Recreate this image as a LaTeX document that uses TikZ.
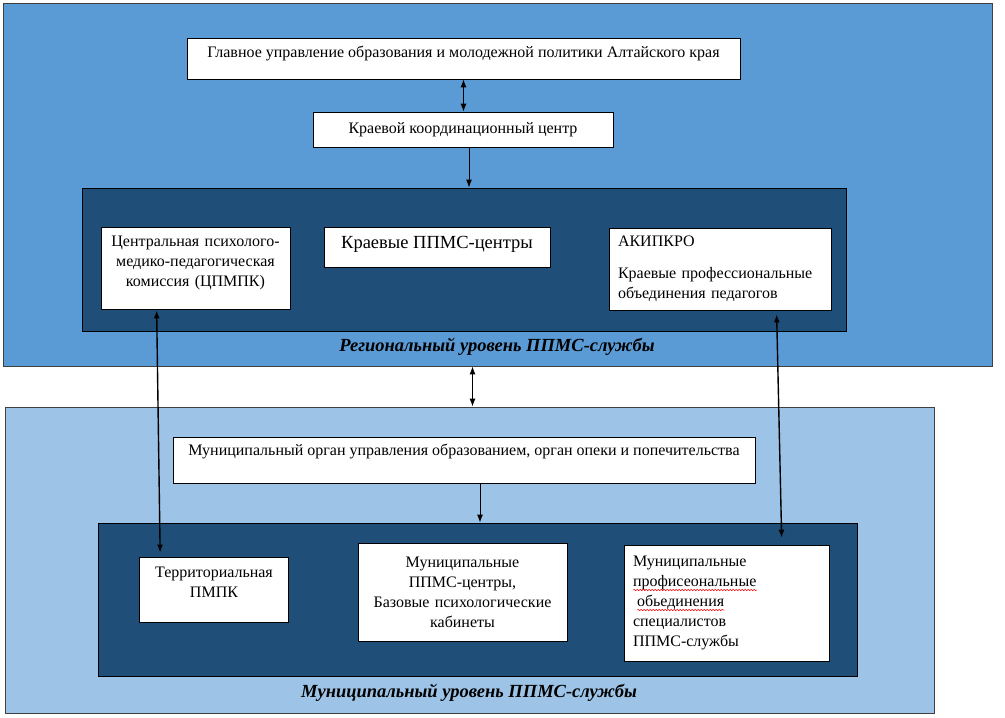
\documentclass[tikz,border=0pt]{standalone}
\usepackage{fontspec}
\setmainfont{Liberation Serif}
\usetikzlibrary{arrows.meta,calc,positioning,decorations.pathmorphing}

\definecolor{regblue}{RGB}{91,155,213}
\definecolor{munblue}{RGB}{157,195,230}
\definecolor{deepblue}{RGB}{31,78,121}

% spell-checker wave under a word
\newsavebox{\wavebox}
\newcommand{\spellwave}[1]{\leavevmode\sbox{\wavebox}{#1}\rlap{\usebox{\wavebox}}%
  \tikz[baseline=0pt]\draw[red, line width=0.5pt, decorate,
    decoration={snake, amplitude=0.7pt, segment length=3pt}]
    (0pt,-3.5pt) -- (\the\wd\wavebox,-3.5pt);}

\begin{document}
\begin{tikzpicture}[
    >={Latex[length=8pt,width=6pt]},
    x=1pt, y=-1pt,
    every node/.style={font=\fontsize{16}{20}\selectfont},
    tierpanel/.style={draw=black!75, line width=0.8pt, inner sep=0pt},
    corebox/.style={draw=black, fill=deepblue, line width=0.8pt, inner sep=0pt},
    unitbox/.style={draw=black, fill=white, line width=0.7pt, inner sep=4pt, align=center},
    caption/.style={font=\fontsize{18.5}{22}\selectfont\bfseries\itshape},
    link/.style={line width=1pt},
    longlink/.style={line width=1.4pt}
  ]
    \useasboundingbox (0,0) rectangle (1005,718);

    %------------------ Regional level ------------------%
    \node[tierpanel, fill=regblue, minimum width=989, minimum height=363] (regbg) at (497.5,184.5) {};
    \node[corebox, minimum width=764, minimum height=143] (regcore) at (464,259.5) {};

    % Governing bodies
    \node[unitbox, minimum width=553, inner ysep=0pt, text height=19.3, text depth=21.7] (glav) at (463.5,58.5)
      {Главное управление образования и молодежной политики Алтайского края};
    \node[unitbox, minimum width=300, inner ysep=0pt, text height=21, text depth=14] (krc) at (463,129.5)
      {Краевой координационный центр};

    % Regional units
    \node[unitbox, text width=181, minimum height=82] (cpmpk) at (195.5,268)
      {Центральная психолого-\\медико-педагогическая\\комиссия (ЦПМПК)\\[-6pt]\mbox{}};
    \node[unitbox, minimum width=226, inner ysep=0pt, text height=21.7, text depth=18.3,
      font=\fontsize{18.5}{22}\selectfont] (kppms) at (437,247) {Краевые ППМС-центры};
    \node[unitbox, align=left, inner xsep=9pt, text width=204, minimum height=82] (akip) at (720,269)
      {АКИПКРО\\[12pt]Краевые профессиональные\\объединения педагогов};

    % Caption
    \node[caption] (reglabel) at (497,347) {Региональный уровень ППМС-службы};

    %------------------ Municipal level -----------------%
    \node[tierpanel, fill=munblue, minimum width=929, minimum height=306] (munbg) at (469.5,560) {};
    \node[corebox, minimum width=759, minimum height=153] (muncore) at (477.5,599.5) {};

    % Governing body
    \node[unitbox, minimum width=582, inner ysep=0pt, text height=18.3, text depth=27.7] (morg) at (464,460)
      {Муниципальный орган управления образованием, орган опеки и попечительства};

    % Municipal units
    \node[unitbox, text width=141, minimum height=65] (tpmpk) at (214,589.5)
      {Территориальная\\ПМПК\\[-6pt]\mbox{}};
    \node[unitbox, text width=201, minimum height=98] (mppms) at (462.5,592)
      {Муниципальные\\ППМС-центры,\\Базовые психологические\\кабинеты};
    \node[unitbox, align=left, inner xsep=9pt, text width=187, minimum height=116] (mprof) at (726.5,603)
      {Муниципальные\\\spellwave{профисеональные}\\\hspace*{4pt}\spellwave{обьединения}\\специалистов\\ППМС-службы};

    % Caption
    \node[caption] (munlabel) at (469,693) {Муниципальный уровень ППМС-службы};

    %------------------ Connectors ----------------------%
    \draw[<->, link] (glav.south) -- (glav.south |- krc.north);

    \coordinate (kdown) at ($(krc.south)+(6,0)$);
    \draw[->, link] (kdown) -- (kdown |- regcore.north);

    \coordinate (lvl) at ($(regbg.south)+(-25,0)$);
    \draw[<->, link] (lvl) -- (lvl |- munbg.north);

    \coordinate (mdown) at ($(morg.south)+(16,0)$);
    \draw[->, link] (mdown) -- (mdown |- muncore.north);

    % Long links between levels
    \coordinate (cup) at ($(cpmpk.south west)+(56,1)$);
    \coordinate (cdn) at ($(tpmpk.north west)+(21,-4)$);
    \draw[<->, longlink] (cup) -- (cdn);

    \coordinate (aup) at ($(akip.south west)+(168,4)$);
    \coordinate (adn) at ($(mprof.north west)+(158,-7)$);
    \draw[<->, longlink] (aup) -- (adn);

  \end{tikzpicture}
\end{document}
